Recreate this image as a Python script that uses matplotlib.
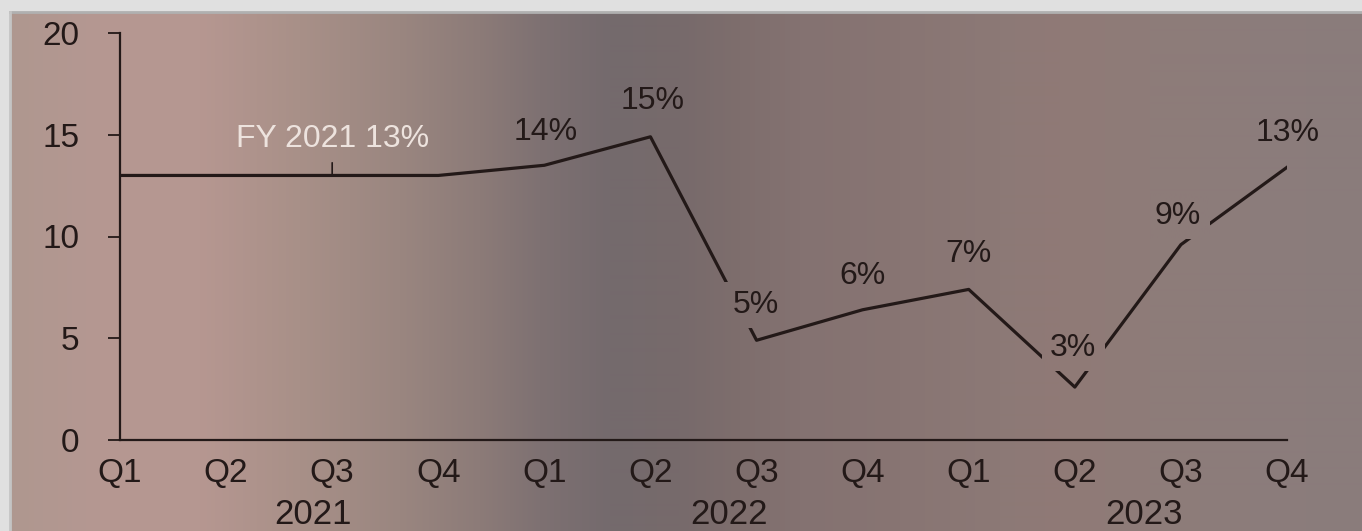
import numpy as np
import matplotlib.pyplot as plt
from matplotlib import transforms
from matplotlib.patches import Rectangle

plt.rcParams['font.family'] = ['Liberation Sans', 'DejaVu Sans']

# data
quarters = ['Q1', 'Q2', 'Q3', 'Q4'] * 3
years = ['2021', '2022', '2023']
margin = [13, 13, 13, 13, 13.5, 14.9, 4.9, 6.4, 7.4, 2.6, 9.6, 13.4]
labels = ['', '', '', '', '14%', '15%', '5%', '6%', '7%', '3%', '9%', '13%']
fy_label = 'FY 2021 13%'
fy_index = 2

# placement / style
label_dx = [0, 0, 0, 0, 1, 2, -1, 0, 0, -2, -3, 1]
label_dy = [0, 0, 0, 0, 33, 36, 35, 34, 35, 39, 29, 34]
knockout = [False] * 6 + [True, False, False, True, True, False]  # labels that break the line
year_pos = [1.82, 5.74, 9.65]
ink = '#231918'

# background: rough horizontal colour stops of the photo (pixel x, rgb)
bg_x = [0, 100, 200, 300, 400, 480, 540, 610, 680, 740, 800, 900, 1000, 1060, 1150, 1250, 1362]
bg_rgb = [(174, 151, 143), (181, 152, 146), (182, 151, 145), (168, 144, 136), (154, 134, 128),
          (140, 123, 120), (126, 113, 114), (116, 106, 109), (119, 106, 107), (126, 110, 109),
          (132, 114, 113), (136, 117, 115), (140, 121, 118), (144, 122, 118), (142, 124, 121),
          (140, 124, 123), (138, 124, 124)]

W, H = 1362, 531
fig = plt.figure(figsize=(W / 100, H / 100), dpi=100)
fig.patch.set_facecolor('#e0e0e0')

cols = np.linspace(10, W, W - 10)
grad = np.stack([np.interp(cols, bg_x, [c[i] for c in bg_rgb]) for i in range(3)], axis=-1) / 255
grad = grad[None, :, :]

bg = fig.add_axes([0, 0, 1, 1])
bg.imshow(grad, extent=(10, W, 0, H - 12), aspect='auto', interpolation='bilinear')
bg.plot([10, W], [H - 12, H - 12], color='#b0b0b0', lw=2)
bg.plot([10, 10], [0, H - 12], color='#c4c4c4', lw=2)
bg.set_xlim(0, W)
bg.set_ylim(0, H)
bg.axis('off')

ax = fig.add_axes([120 / W, 1 - 440 / H, 1167 / W, 407 / H])
ax.patch.set_visible(False)
x = np.arange(len(margin))
ax.plot(x, margin, color=ink, lw=2.3, zorder=2)

ax.set_xlim(0, 11)
ax.set_ylim(0, 20)
for s in ['top', 'right']:
    ax.spines[s].set_visible(False)
for s in ['left', 'bottom']:
    ax.spines[s].set_color(ink)
    ax.spines[s].set_linewidth(1.6)

ax.set_yticks([0, 5, 10, 15, 20])
ax.set_xticks(x, quarters)
ax.tick_params(axis='y', length=9, width=1.3, pad=20, labelsize=24, color=ink, labelcolor=ink)
ax.tick_params(axis='x', length=0, pad=13, labelsize=24, labelcolor=ink)

trans = transforms.blended_transform_factory(ax.transData, ax.transAxes)
for yp, yr in zip(year_pos, years):
    ax.text(yp, -0.184, yr, transform=trans, ha='center', va='center', fontsize=25, color=ink)

anns = []
for i, t in enumerate(labels):
    if not t:
        continue
    a = ax.annotate(t, (i, margin[i]), xytext=(label_dx[i], label_dy[i]), textcoords='offset pixels',
                    ha='center', va='center', fontsize=23, color=ink, zorder=3,
                    bbox=dict(boxstyle='square,pad=0.25', fc='none', ec='none'))
    if knockout[i]:
        anns.append(a)

ax.annotate(fy_label, (fy_index, margin[fy_index]), xytext=(0, 36), textcoords='offset pixels',
            ha='center', va='center', fontsize=23, color='#ede3de', zorder=3,
            arrowprops=dict(arrowstyle='-', color=ink, lw=1.2, shrinkA=4, shrinkB=0))

# knock the line out behind some labels with a copy of the background
fig.canvas.draw()
inv = ax.transData.inverted()
x0d, y0d = inv.transform((10, 0))
x1d, y1d = inv.transform((W, H - 12))
for a in anns:
    bb = a.get_bbox_patch().get_window_extent()
    rect = Rectangle((bb.x0, bb.y0), bb.width, bb.height, transform=transforms.IdentityTransform())
    im = ax.imshow(grad, extent=(x0d, x1d, y0d, y1d), aspect='auto', interpolation='bilinear', zorder=2.5)
    im.set_clip_path(rect)
ax.set_xlim(0, 11)
ax.set_ylim(0, 20)

fig.savefig('out.png', dpi=100, facecolor=fig.get_facecolor())
